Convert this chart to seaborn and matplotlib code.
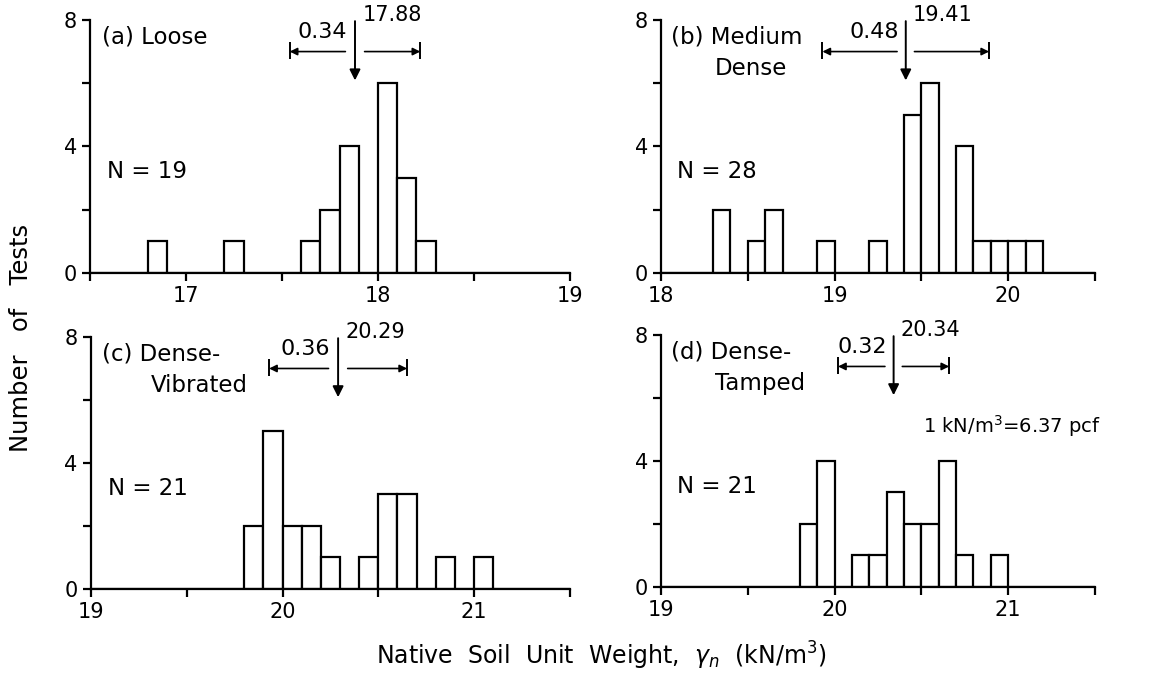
import numpy as np
import matplotlib
matplotlib.use("Agg")
import matplotlib.pyplot as plt
import seaborn as sns

# Histograms of native soil unit weight for four placement conditions

# bin left edges (kN/m3) and counts, bin width 0.1
loose_bins = [16.8, 17.2, 17.6, 17.7, 17.8, 18.0, 18.1, 18.2]
loose_counts = [1, 1, 1, 2, 4, 6, 3, 1]

medium_bins = [18.3, 18.5, 18.6, 18.9, 19.2, 19.4, 19.5, 19.7, 19.8, 19.9, 20.0, 20.1]
medium_counts = [2, 1, 2, 1, 1, 5, 6, 4, 1, 1, 1, 1]

vibrated_bins = [19.8, 19.9, 20.0, 20.1, 20.2, 20.4, 20.5, 20.6, 20.8, 21.0]
vibrated_counts = [2, 5, 2, 2, 1, 1, 3, 3, 1, 1]

tamped_bins = [19.8, 19.9, 20.1, 20.2, 20.3, 20.4, 20.5, 20.6, 20.7, 20.9]
tamped_counts = [2, 4, 1, 1, 3, 2, 2, 4, 1, 1]

titles = [["(a) Loose"], ["(b) Medium", "Dense"], ["(c) Dense-", "Vibrated"], ["(d) Dense-", "Tamped"]]
n_tests = [19, 28, 21, 21]
means = [17.88, 19.41, 20.29, 20.34]
sds = [0.34, 0.48, 0.36, 0.32]
x_starts = [16.5, 18.0, 19.0, 19.0]

bins_all = [loose_bins, medium_bins, vibrated_bins, tamped_bins]
counts_all = [loose_counts, medium_counts, vibrated_counts, tamped_counts]

sns.set_style("ticks")
plt.rcParams["font.family"] = ["DejaVu Sans"]
plt.rcParams["font.size"] = 14
plt.rcParams["text.color"] = "black"

fig = plt.figure(figsize=(11.57, 6.76), dpi=100)
positions = [
    [0.0778, 0.5962, 0.4149, 0.3743],
    [0.5713, 0.5962, 0.3751, 0.3743],
    [0.0786, 0.1287, 0.4140, 0.3728],
    [0.5713, 0.1317, 0.3751, 0.3728],
]

lw = 1.6
for i in range(4):
    ax = fig.add_axes(positions[i])
    x0 = x_starts[i]
    centers = np.array(bins_all[i]) + 0.05
    sns.histplot(x=centers, weights=counts_all[i], binwidth=0.1,
                 binrange=(x0, x0 + 2.5), ax=ax, color="white",
                 edgecolor="black", linewidth=lw, alpha=1)
    ax.set_xlim(x0, x0 + 2.5)
    ax.set_ylim(0, 8)
    sns.despine(ax=ax)
    for s in ["left", "bottom"]:
        ax.spines[s].set_linewidth(lw)
        ax.spines[s].set_color("black")
    ax.set_yticks([0, 4, 8])
    ax.set_yticks([2, 6], minor=True)
    xt = np.arange(np.ceil(x0), x0 + 2.51, 1.0)
    ax.set_xticks(xt)
    ax.set_xticklabels([f"{v:.0f}" for v in xt])
    ax.set_xticks(np.arange(x0, x0 + 2.51, 0.5), minor=True)
    ax.tick_params(which="both", direction="out", length=6, width=lw,
                   labelsize=15, colors="black")
    ax.set_xlabel("")
    ax.set_ylabel("")

    # title lines
    ax.text(x0 + 0.06, 7.45, titles[i][0], fontsize=16.5, va="center", ha="left")
    if len(titles[i]) > 1:
        ax.text(x0 + 0.31, 6.45, titles[i][1], fontsize=16.5, va="center", ha="left")
    ax.text(x0 + 0.09, 3.2, f"N = {n_tests[i]}", fontsize=16.5, va="center", ha="left")

    # mean arrow and +/- sd bar
    m, sd = means[i], sds[i]
    ax.annotate("", xy=(m, 6.0), xytext=(m, 8.05),
                arrowprops=dict(arrowstyle="-|>", color="black", lw=1.4,
                                mutation_scale=16), annotation_clip=False)
    ax.annotate("", xy=(m - sd, 7.0), xytext=(m - 0.05, 7.0),
                arrowprops=dict(arrowstyle="-|>", color="black", lw=1.2,
                                mutation_scale=11, shrinkA=0, shrinkB=0))
    ax.annotate("", xy=(m + sd, 7.0), xytext=(m + 0.05, 7.0),
                arrowprops=dict(arrowstyle="-|>", color="black", lw=1.2,
                                mutation_scale=11, shrinkA=0, shrinkB=0))
    ax.vlines([m - sd, m + sd], 6.75, 7.3, color="black", lw=1.4)
    ax.text(m - 0.04, 7.3, f"{sd:.2f}", fontsize=16, ha="right", va="bottom")
    ax.text(m + 0.04, 7.85, f"{m:.2f}", fontsize=15, ha="left", va="bottom",
            clip_on=False)

    if i == 3:
        ax.text(20.51, 5.1, r"1 kN/m$^3$=6.37 pcf", fontsize=14, ha="left",
                va="center")

fig.text(0.018, 0.5, "Number   of   Tests", rotation=90, fontsize=17.5,
         ha="center", va="center")
fig.text(0.52, 0.03, r"Native  Soil  Unit  Weight,  $\gamma_n$  (kN/m$^3$)",
         fontsize=17, ha="center", va="center")

fig.savefig("out.png", dpi=100)
